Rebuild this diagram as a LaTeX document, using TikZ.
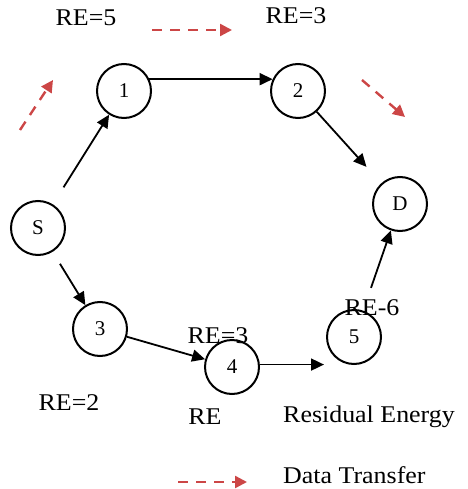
\documentclass[tikz,border=0pt]{standalone}
\usepackage{fontspec}
\setmainfont{Liberation Serif}
\usetikzlibrary{arrows.meta}

\definecolor{datared}{RGB}{204,70,70}

\begin{document}
\begin{tikzpicture}[x=1pt, y=-1pt,
  sensor/.style={draw, circle, line width=2pt, minimum size=54pt, inner sep=0pt, font=\fontsize{21}{23}\selectfont},
  hop/.style={line width=1.8pt, -{Triangle[length=13pt, width=12pt]}},
  transfer/.style={datared, line width=2.4pt, dash pattern=on 10pt off 8pt, -{Triangle[length=12pt, width=12pt]}},
  energy/.style={font=\fontsize{24}{26}\selectfont, xscale=1.08, inner sep=0pt}]

 \useasboundingbox (0,0) rectangle (467,489);

 % nodes
 \node[sensor] (S) at (38,228) {S};
 \node[sensor] (n1) at (124,91) {1};
 \node[sensor] (n2) at (298,91) {2};
 \node[sensor] (D) at (400,204) {D};
 \node[sensor] (n3) at (100,329) {3};
 \node[sensor] (n4) at (232,367) {4};
 \node[sensor] (n5) at (354,337) {5};

 % residual energy labels
 \node[energy] (re1) at (86,18) {RE=5};
 \node[energy] (re2) at (296,16) {RE=3};
 \node[energy] (re5) at (372,308) {RE-6};
 \node[energy] (re4) at (218,336) {RE=3};
 \node[energy] (re3) at (69,403) {RE=2};

 % hops
 \draw[hop, shorten <=20pt] (S) -- (n1);
 \draw[hop] (n1.25) -- (n2.155);
 \draw[hop, shorten >=22pt] (n2) -- (D);
 \draw[hop, shorten <=14pt] (S) -- (n3);
 \draw[hop] (n3) -- (n4);
 \draw[hop, shorten >=2pt] (n4.5) -- (n4.5 -| n5.west);
 \draw[hop, shorten <=24pt] (n5) -- (D);

 % data transfer direction
 \coordinate (t1a) at (20,130); \coordinate (t1b) at (53,80);
 \coordinate (t2a) at (152,30); \coordinate (t2b) at (232,30);
 \coordinate (t3a) at (362,80); \coordinate (t3b) at (405,117);
 \draw[transfer] (t1a) -- (t1b);
 \draw[transfer] (t2a) -- (t2b);
 \draw[transfer] (t3a) -- (t3b);

 % legend
 \node[energy] (lre) at (205,417) {RE};
 \node[energy, anchor=west] (lretext) at (283,417) {Residual Energy};
 \coordinate (la) at (178,482); \coordinate (lb) at (247,482);
 \draw[transfer] (la) -- (lb);
 \node[energy, anchor=west] (ldata) at (283,475) {Data Transfer};
\end{tikzpicture}
\end{document}
